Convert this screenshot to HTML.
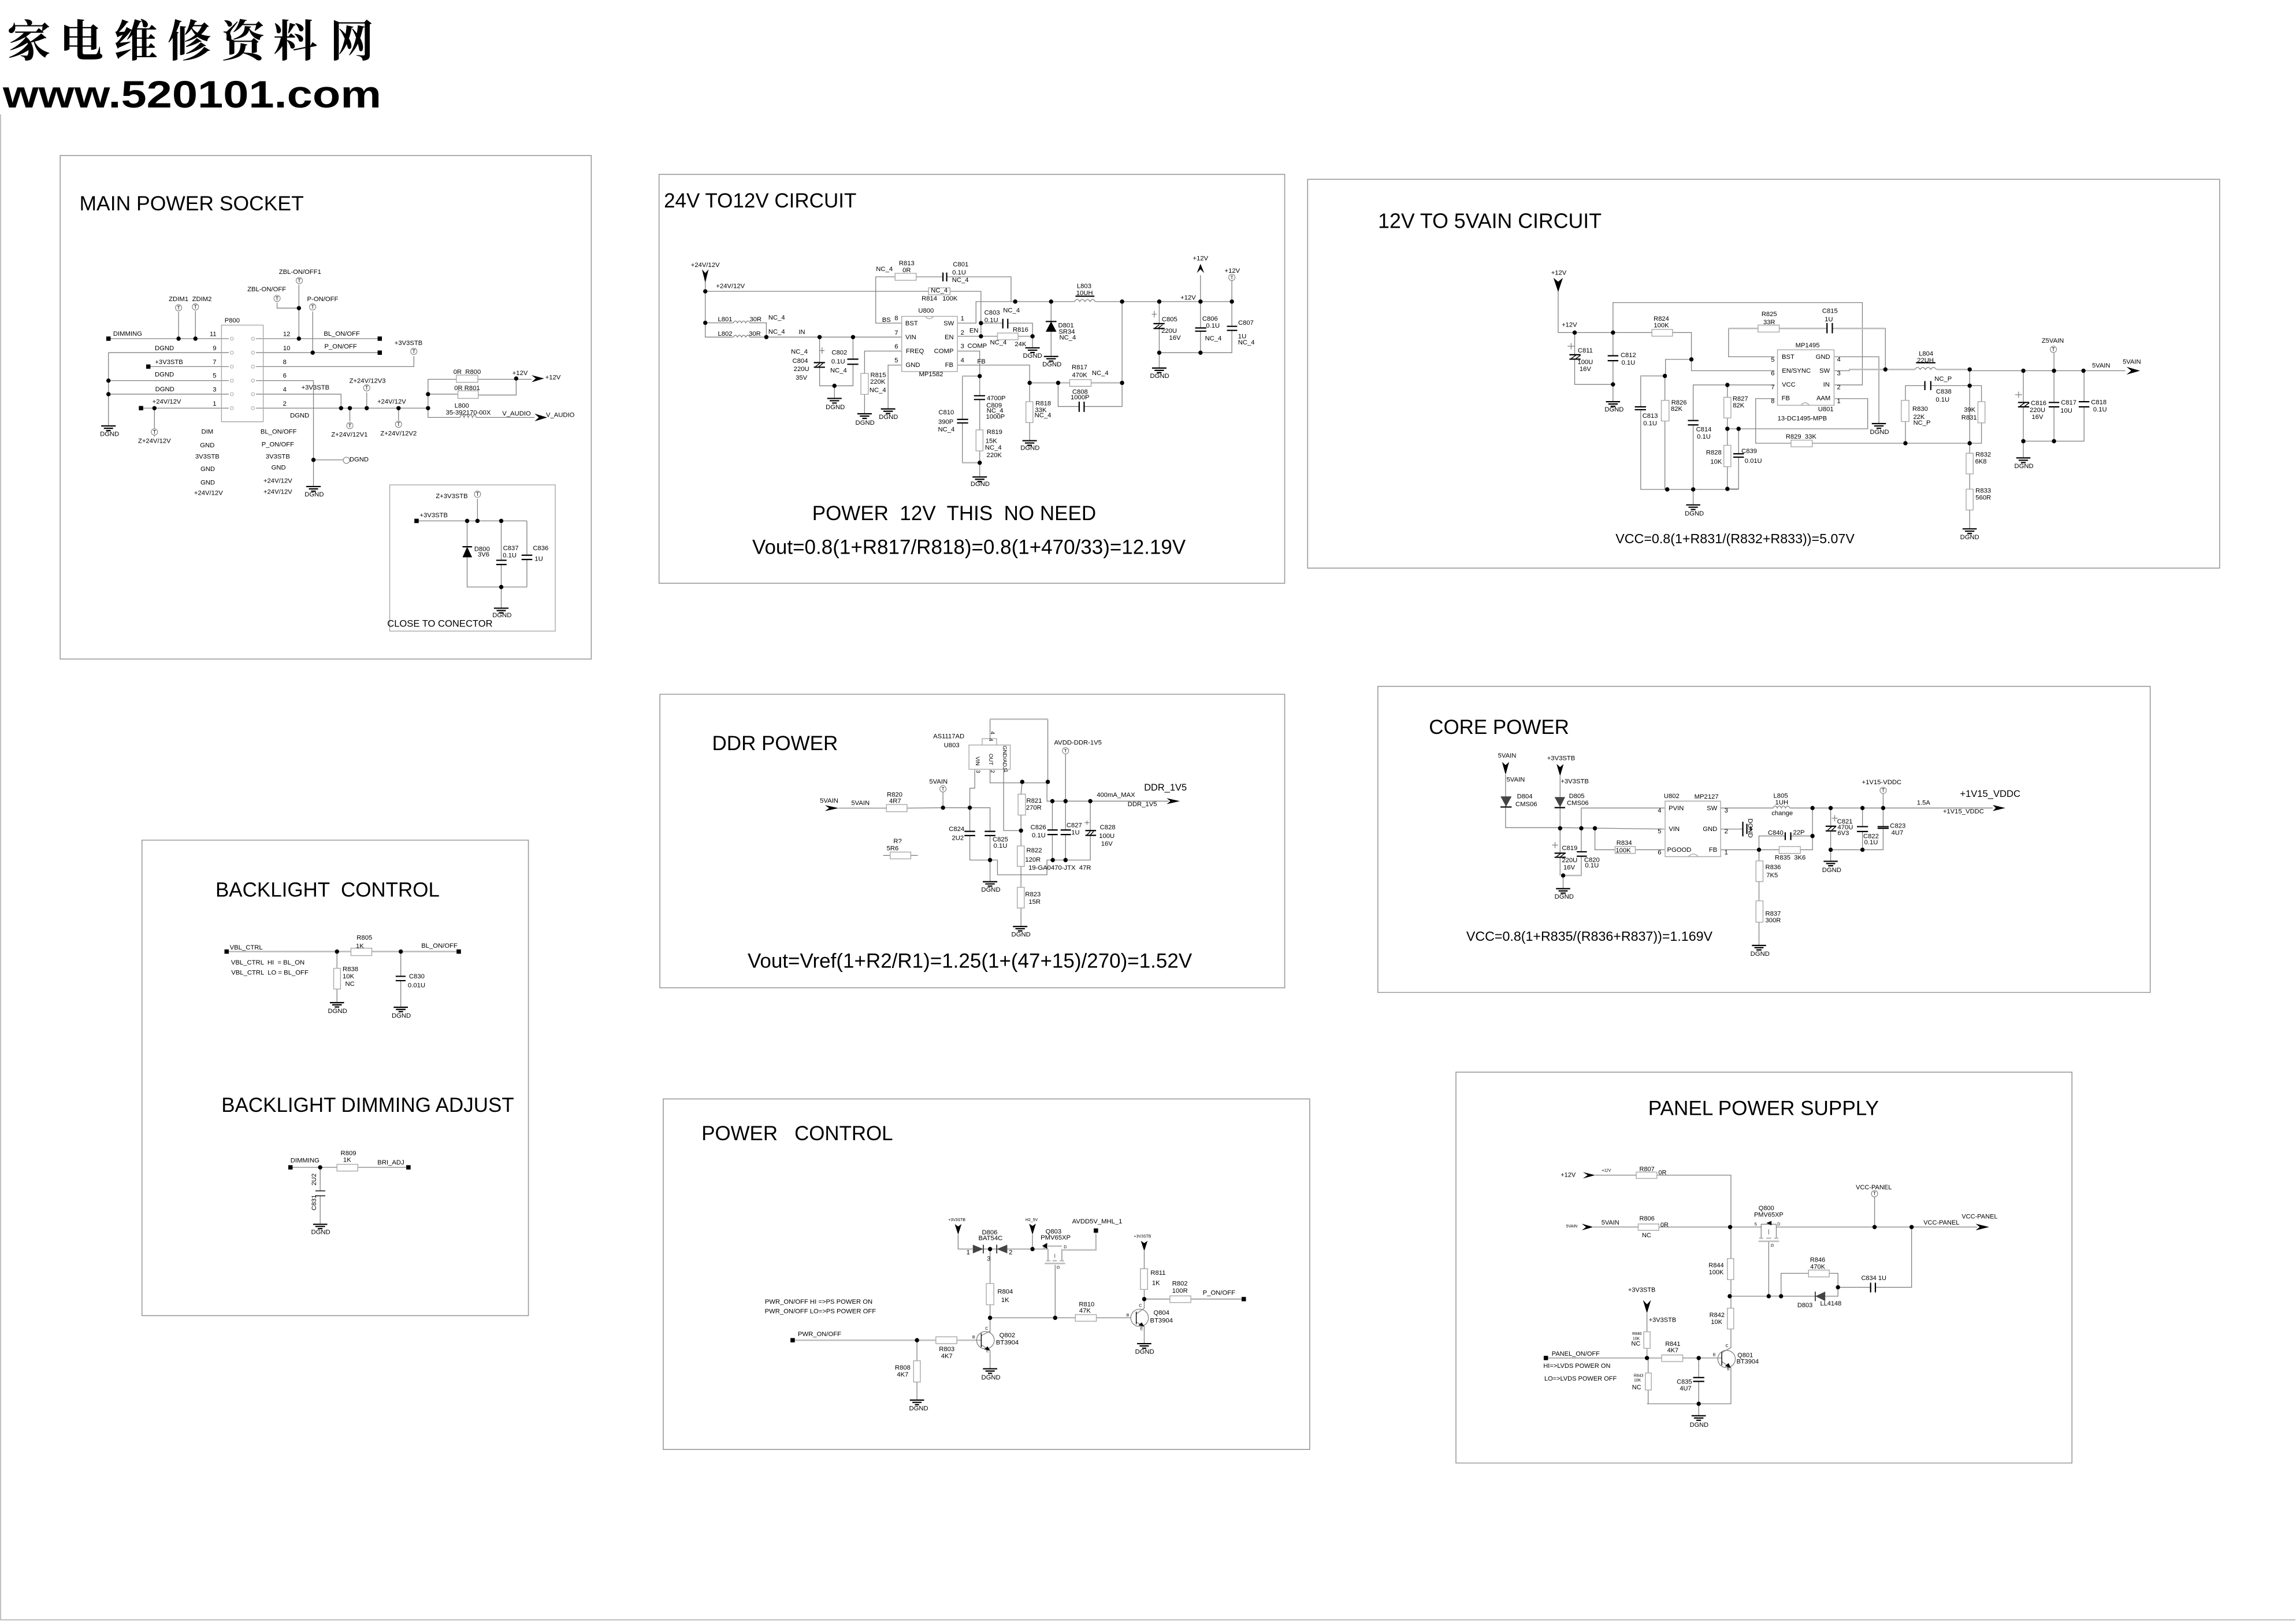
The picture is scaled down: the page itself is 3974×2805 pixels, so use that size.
<!DOCTYPE html>
<html><head><meta charset="utf-8"><title>Power schematic</title>
<style>
html,body{margin:0;padding:0;background:#fff}
svg{display:block}
text{font-family:"Liberation Sans","Noto Sans CJK SC",sans-serif;fill:#000;white-space:pre}
.s text{text-anchor:middle;dominant-baseline:central;transform-box:fill-box;transform-origin:center}
.s1 text{transform:scale(1,.90435)}
.s2 text{transform:scale(1,1.53425)}
.s3 text{transform:scale(1,2.28571)}
.s4 text{transform:scale(1,2.07407)}
.s5 text{transform:scale(1,2.49091)}
.s6 text{transform:scale(1,.82143)}
.s7 text{transform:scale(1,1.83871)}
.s8 text{transform:scale(1,1.56522)}
path,rect,ellipse{vector-effect:non-scaling-stroke;fill:none}
.b{stroke:#9a9a9a;stroke-width:1.6}
.w{stroke:#808080;stroke-width:1.3}
.r{stroke:#a8a8a8;stroke-width:1.4}
.g{stroke:#bdbdbd;stroke-width:2.6}
.k{stroke:#000;stroke-width:2.2}
.t{stroke:#000;stroke-width:1.4}
.d{stroke:#000;stroke-width:7.4;stroke-linecap:round}
.q{stroke:#000;stroke-width:7.5;stroke-linecap:square}
.o{stroke:#777;stroke-width:12;stroke-linecap:round}
.i{stroke:#fff;stroke-width:10;stroke-linecap:round}
path.f{fill:#000;stroke:none}
path.e{fill:#444;stroke:none}
</style></head><body>
<svg xmlns="http://www.w3.org/2000/svg" width="3974" height="2805" viewBox="0 0 3974 2805">
<rect x="0" y="0" width="3974" height="2805" style="fill:#fff"/>
<path class="r" d="M1 198V2803H3973"/>
<!-- logo -->
<text x="12 103 197 290 383 473 571" y="98" font-size="76" font-weight="700" style="font-family:'Noto Serif CJK SC','Noto Sans CJK SC',serif">家电维修资料网</text>
<text x="5" y="186" font-size="66" font-weight="700" textLength="655" lengthAdjust="spacingAndGlyphs">www.520101.com</text>

<!-- S1 MAIN POWER SOCKET -->
<g class="s s1" transform="scale(.66326,.73341)" font-size="17">
<path class="b" d="M157 367H1543V1555H157Z"/>
<path class="r" d="M1017 1144H1449V1489H1017Z"/>
<path class="w" d="M283 799H597M466 799V736M510 799V734M283 832H597M283 832V1005M283 898H597M283 930H597M387 865H597M368 963H597M403 963V1030
M668 799H991M668 832H991M780 799V672M780 727H723V714M816 832V735M668 865H1080V840M668 898H818V1148M818 1085H895M668 930H890V963M668 963H1117M913 963V994M957 963V926M1040 963V992
M1117 930V985H1200M1243 985H1395M1117 930V895H1191M1247 895H1387M1117 930H1195M1248 932H1347V893
M1200 985q5.5 -13 11 0q5.5 -13 11 0q5.5 -13 11 0q5 -13 10 0
M1087 1229H1375M1246 1229V1177M1219 1229V1385H1375M1308 1229V1322M1308 1332V1435M1375 1229V1310M1375 1320V1385"/>
<path class="r" d="M578 767H687V995H578ZM1191 885H1247V902H1191ZM1195 922H1248V940H1195Z"/>
<path class="r" d="M605 799h.01M660 799h.01" style="display:none"/>
<path class="o" d="M466 726h.01M510 724h.01M781 662h.01M723 704h.01M816 724h.01M1080 829h.01M957 915h.01M913 1004h.01M1040 1001h.01M403 1019h.01M904 1086h.01M1246 1166h.01"/>
<path class="i" d="M466 726h.01M510 724h.01M781 662h.01M723 704h.01M816 724h.01M1080 829h.01M957 915h.01M913 1004h.01M1040 1001h.01M403 1019h.01M904 1086h.01M1246 1166h.01"/>
<path class="r" style="stroke-width:6.5;stroke-linecap:round" d="M605 799h.01M605 832h.01M605 865h.01M605 898h.01M605 930h.01M605 963h.01M660 799h.01M660 832h.01M660 865h.01M660 898h.01M660 930h.01M660 963h.01"/>
<path style="stroke:#fff;stroke-width:4.4;stroke-linecap:round" d="M605 799h.01M605 832h.01M605 865h.01M605 898h.01M605 930h.01M605 963h.01M660 799h.01M660 832h.01M660 865h.01M660 898h.01M660 930h.01M660 963h.01"/>
<path class="d" d="M466 799h.01M510 799h.01M780 799h.01M780 727h.01M816 832h.01M283 898h.01M283 930h.01M403 963h.01M890 963h.01M913 963h.01M957 963h.01M1040 963h.01M1117 963h.01M1117 930h.01M1347 893h.01M818 1085h.01M1219 1229h.01M1246 1229h.01M1308 1229h.01M1308 1385h.01"/>
<path class="q" d="M283 799h.01M991 799h.01M991 832h.01M387 865h.01M368 963h.01M1087 1229h.01"/>
<path class="k" d="M283 1005m-19 0h38m-31 5.5h24m-18 5.5h12M818 1148m-19 0h38m-31 5.5h24m-18 5.5h12M1308 1435m-19 0h38m-31 5.5h24m-18 5.5h12M1295 1322h27M1295 1332h27M1361 1310h28M1361 1320h28M1207 1290h25"/>
<path class="f" d="M1387 885L1398 893L1387 902L1420 893ZM1395 976L1406 985L1395 994L1428 985ZM1219 1290L1232 1315H1207Z"/>
<text x="500" y="480" font-size="53.5">MAIN POWER SOCKET</text>
<text x="783" y="642">ZBL-ON/OFF1</text><text x="696" y="683">ZBL-ON/OFF</text><text x="466" y="706">ZDIM1</text><text x="527" y="706">ZDIM2</text><text x="842" y="706">P-ON/OFF</text><text x="606" y="757">P800</text>
<text x="333" y="788">DIMMING</text><text x="556" y="789">11</text><text x="748" y="789">12</text><text x="892" y="788">BL_ON/OFF</text><text x="560" y="822">9</text><text x="748" y="822">10</text><text x="429" y="822">DGND</text><text x="889" y="818">P_ON/OFF</text><text x="1066" y="810">+3V3STB</text>
<text x="441" y="855">+3V3STB</text><text x="560" y="855">7</text><text x="743" y="855">8</text><text x="429" y="884">DGND</text><text x="560" y="887">5</text><text x="743" y="887">6</text><text x="823" y="915">+3V3STB</text><text x="430" y="919">DGND</text><text x="560" y="920">3</text><text x="743" y="920">4</text><text x="959" y="899">Z+24V/12V3</text>
<text x="435" y="948">+24V/12V</text><text x="560" y="953">1</text><text x="743" y="953">2</text><text x="1022" y="948">+24V/12V</text><text x="782" y="981">DGND</text><text x="286" y="1025">DGND</text><text x="403" y="1041">Z+24V/12V</text><text x="912" y="1026">Z+24V/12V1</text><text x="1040" y="1023">Z+24V/12V2</text>
<text x="541" y="1019">DIM</text><text x="727" y="1019">BL_ON/OFF</text><text x="541" y="1051">GND</text><text x="725" y="1049">P_ON/OFF</text><text x="541" y="1078">3V3STB</text><text x="725" y="1078">3V3STB</text><text x="542" y="1107">GND</text><text x="727" y="1104">GND</text><text x="542" y="1139">GND</text><text x="725" y="1135">+24V/12V</text><text x="544" y="1164">+24V/12V</text><text x="725" y="1161">+24V/12V</text><text x="820" y="1167">DGND</text><text x="937" y="1085">DGND</text>
<text x="1219" y="878">0R  R800</text><text x="1219" y="916">0R R801</text><text x="1357" y="881">+12V</text><text x="1443" y="891">+12V</text><text x="1205" y="958">L800</text><text x="1222" y="974">35-392170-00X</text><text x="1348" y="976">V_AUDIO</text><text x="1462" y="980">V_AUDIO</text>
<text x="1179" y="1171">Z+3V3STB</text><text x="1132" y="1216">+3V3STB</text><text x="1258" y="1296">D800</text><text x="1262" y="1309">3V6</text><text x="1333" y="1294">C837</text><text x="1330" y="1311">0.1U</text><text x="1411" y="1294">C836</text><text x="1406" y="1319">1U</text><text x="1310" y="1452">DGND</text><text x="1148" y="1471" font-size="25">CLOSE TO CONECTOR</text>
<g font-size="14"><text x="466" y="726">T</text><text x="510" y="724">T</text><text x="781" y="662">T</text><text x="723" y="704">T</text><text x="816" y="724">T</text><text x="1080" y="829">T</text><text x="957" y="915">T</text><text x="913" y="1004">T</text><text x="1040" y="1001">T</text><text x="403" y="1019">T</text><text x="1246" y="1166">T</text></g>
</g>

<!-- S2 24V TO 12V -->
<g class="s s2" transform="translate(1130,290) scale(.71429,.46556)" font-size="15.8">
<path class="b" d="M15 25H1531V1545H15Z"/>
<path class="w" d="M127 425V630H195M235 630H603M127 460H668M720 460H795V627M127 577H195M235 577H275V630
M195 577q5 -14 10 0q5 -14 10 0q5 -14 10 0q5 -14 10 0M195 630q5 -14 10 0q5 -14 10 0q5 -14 10 0q5 -14 10 0
M603 578H540V406H587M638 406H703M712 406H868V498M738 578H783V498H1022M1072 498H1403
M1022 498q6 -16 12.5 0q6 -16 12.5 0q6 -16 12.5 0q6 -16 12.5 0
M738 627H835M885 627H920M795 578H848M860 578H920V670M738 682H792V848M792 862V975M792 1053V1150M792 775H750M750 775V936M750 949V1097H792M738 734H913V800M913 800V870M913 948V1015
M913 800H1010M1062 800H1137M1137 498V888H1045M1033 888H982V800M603 682H513V765M513 843V915M603 734H570V897
M404 630V725M404 742V811H485V731M485 630V712M440 811V858M965 498V700M1227 498V580M1227 598V745M1227 688H1403V605M1403 590V418M1327 498V400M1327 498V596M1327 608V688
M404 680h12M410 668v24M1209 545h12M1215 533v24"/>
<path class="g" d="M750 775H792M913 800H1010M1062 800H1137M750 1097H792"/>
<path class="r" d="M603 553H738V758H603ZM587 393H638V419H587ZM668 447H720V473H668ZM835 615H885V640H835ZM783 975H800V1053H783ZM904 870H921V948H904ZM1010 788H1062V813H1010ZM504 765H522V843H504ZM660 553q10 18 20 0"/>
<path class="o" d="M1403 408h.01"/><path class="i" d="M1403 408h.01"/>
<path class="d" d="M127 460h.01M127 577h.01M275 630h.01M404 630h.01M485 630h.01M440 811h.01M878 498h.01M965 498h.01M1137 498h.01M1227 498h.01M1327 498h.01M1403 498h.01M795 578h.01M795 627h.01M920 627h.01M792 775h.01M792 1097h.01M913 800h.01M982 800h.01M1137 800h.01M1227 688h.01M1327 688h.01"/>
<path class="k" d="M440 858m-17.5 0h35m-29 8.6h23m-17 8.6h11M513 915m-17.5 0h35m-29 8.6h23m-17 8.6h11M570 897m-17.5 0h35m-29 8.6h23m-17 8.6h11M920 670m-17.5 0h35m-29 8.6h23m-17 8.6h11M965 702m-17.5 0h35m-29 8.6h23m-17 8.6h11M1227 745m-17.5 0h35m-29 8.6h23m-17 8.6h11M792 1150m-17.5 0h35m-29 8.6h23m-17 8.6h11M913 1015m-17.5 0h35m-29 8.6h23m-17 8.6h11
M703 390V423M712 390V423M848 562V598M860 562V598M778 848h27M778 862h27M737 936h27M737 949h27M1033 870V908M1045 870V908M390 725h27M390 742h27M471 712h27M471 731h27M1213 580h27M1213 598h27M1314 596h27M1314 608h27M1391 590h25M1391 605h25M1024 478h46M952 572h26"/>
<path class="t" d="M394 740l10 -12M402 740l10 -12M1217 596l10 -12M1225 596l10 -12"/>
<path class="f" d="M119 378L127 392L135 378L127 428ZM1318 392L1327 378L1336 392L1327 358ZM965 572L978 610H952Z"/>
<text x="260" y="124" font-size="49">24V TO12V CIRCUIT</text>
<text x="127" y="363">+24V/12V</text><text x="188" y="441">+24V/12V</text><text x="561" y="378">NC_4</text><text x="615" y="357">R813</text><text x="615" y="382">0R</text><text x="746" y="361">C801</text><text x="742" y="391">0.1U</text><text x="745" y="419">NC_4</text><text x="694" y="457">NC_4</text><text x="670" y="488">R814</text><text x="720" y="488">100K</text><text x="662" y="533">U800</text><text x="869" y="532">NC_4</text><text x="822" y="540">C803</text><text x="820" y="568">0.1U</text>
<text x="1045" y="441">L803</text><text x="1046" y="467">10UH</text><text x="1327" y="338">+12V</text><text x="1404" y="384">+12V</text><text x="1297" y="484">+12V</text><text x="175" y="565">L801</text><text x="249" y="565">30R</text><text x="300" y="559">NC_4</text><text x="175" y="619">L802</text><text x="247" y="619">30R</text><text x="300" y="611">NC_4</text><text x="361" y="612">IN</text>
<text x="566" y="567">BS</text><text x="590" y="561">8</text><text x="627" y="580">BST</text><text x="717" y="580">SW</text><text x="750" y="562">1</text><text x="590" y="615">7</text><text x="625" y="632">VIN</text><text x="718" y="632">EN</text><text x="750" y="614">2</text><text x="778" y="607">EN</text><text x="891" y="604">R816</text><text x="590" y="666">6</text><text x="635" y="683">FREQ</text><text x="705" y="683">COMP</text><text x="750" y="665">3</text><text x="786" y="664">COMP</text><text x="837" y="651">NC_4</text><text x="891" y="657">24K</text><text x="590" y="717">5</text><text x="630" y="735">GND</text><text x="718" y="735">FB</text><text x="750" y="717">4</text><text x="796" y="722">FB</text><text x="674" y="769">MP1582</text>
<text x="355" y="685">NC_4</text><text x="452" y="688">C802</text><text x="357" y="720">C804</text><text x="449" y="722">0.1U</text><text x="360" y="750">220U</text><text x="450" y="755">NC_4</text><text x="360" y="782">35V</text><text x="546" y="772">R815</text><text x="545" y="797">220K</text><text x="545" y="828">NC_4</text><text x="442" y="891">DGND</text><text x="514" y="949">DGND</text><text x="571" y="928">DGND</text><text x="920" y="700">DGND</text><text x="967" y="733">DGND</text>
<text x="1001" y="588">D801</text><text x="1003" y="611">SR34</text><text x="1005" y="633">NC_4</text><text x="1252" y="565">C805</text><text x="1251" y="608">220U</text><text x="1265" y="634">16V</text><text x="1350" y="563">C806</text><text x="1357" y="589">0.1U</text><text x="1358" y="636">NC_4</text><text x="1437" y="578">C807</text><text x="1428" y="628">1U</text><text x="1438" y="651">NC_4</text><text x="1228" y="775">DGND</text>
<text x="1034" y="743">R817</text><text x="1034" y="772">470K</text><text x="1084" y="765">NC_4</text><text x="1035" y="834">C808</text><text x="1035" y="855">1000P</text><text x="832" y="858">4700P</text><text x="827" y="885">C809</text><text x="829" y="904">NC_4</text><text x="830" y="927">1000P</text><text x="711" y="911">C810</text><text x="710" y="946">390P</text><text x="711" y="974">NC_4</text><text x="946" y="877">R818</text><text x="940" y="902">33K</text><text x="945" y="922">NC_4</text><text x="828" y="984">R819</text><text x="820" y="1017">15K</text><text x="825" y="1042">NC_4</text><text x="827" y="1070">220K</text><text x="914" y="1043">DGND</text><text x="793" y="1177">DGND</text>
<text x="1403" y="408" font-size="12">T</text>
<text x="730" y="1286" font-size="49">POWER  12V  THIS  NO NEED</text>
<text x="766" y="1411" font-size="49">Vout=0.8(1+R817/R818)=0.8(1+470/33)=12.19V</text>
</g>

<!-- S3 12V TO 5VAIN -->
<g class="s s3" transform="translate(2250,300) scale(1.02041,.44643)" font-size="11">
<path class="b" d="M13 23H1560V1530H13Z"/>
<path class="w" d="M438 458V617H597M632 617H664V765H805M531 617V501H954V820H907M664 721H620V785H578V905M578 916V1225H744M619 785V880M619 960V1225M805 820H667V958M667 975V1285M725 820V868M725 948V1054M725 1137V1223H744V1100M744 1087V990M725 990H963V873H907
M466 617V703M466 720V818H531M531 617V707M531 726V885M727 601H777M813 601H894M903 601H993V760M727 601V711H805M907 711H982V970M907 765H932V760H1043M1080 760H1136V1046M1136 765H1400M1043 760q4.5 -16 9 0q4.5 -16 9 0q4.5 -16 9 0q4.5 -16 9.5 0
M1279 765V695M1136 823H1070M1060 823H1027V880M1027 962V1046M1136 823H1156V885M1156 967V1046H1136M805 873H773V1046H833M869 1046H1136M1136 1046V1085M1136 1165V1224M1136 1305V1378
M1227 765V888M1227 905V1103M1227 1038H1330V905M1279 765V888M1279 905V1038M1330 765V885
M454 670h12M460 658v24M1213 858h12M1219 846v24"/>
<path class="g" d="M578 785H619M727 601H777M813 601H894M903 601H993M932 760H1043M1080 760H1136"/>
<path class="r" d="M810 684H906V899H810ZM597 605H632V631H597ZM777 588H813V615H777ZM613 880H626V960H613ZM719 868H731V948H719ZM719 1054H731V1137H719ZM833 1034H869V1060H833ZM1020 880H1033V962H1020ZM1150 885H1162V967H1150ZM1130 1085H1142V1165H1130ZM1130 1224H1142V1305H1130ZM850 899q7 -20 14 0"/>
<path class="o" d="M1278 682h.01"/><path class="i" d="M1278 682h.01"/>
<path class="d" d="M466 617h.01M531 617h.01M531 818h.01M664 721h.01M619 785h.01M725 820h.01M725 990h.01M744 990h.01M623 1225h.01M667 1225h.01M725 1223h.01M993 760h.01M1136 760h.01M1136 823h.01M1027 1046h.01M1136 1046h.01M1227 765h.01M1279 765h.01M1329 765h.01M1227 1038h.01M1279 1038h.01"/>
<path class="k" d="M531 885m-12 0h24m-20 9h16m-12 9h8M667 1285m-12 0h24m-20 9h16m-12 9h8M982 970m-12 0h24m-20 9h16m-12 9h8M1227 1103m-12 0h24m-20 9h16m-12 9h8M1136 1378m-12 0h24m-20 9h16m-12 9h8
M457 703h19M457 720h19M522 707h18M522 726h18M568 905h19M568 916h19M658 958h18M658 975h18M735 1087h18M735 1100h18M894 580V620M903 580V620M1060 805V840M1070 805V840M1218 888h19M1218 905h19M1270 888h18M1270 905h18M1321 885h18M1321 905h18M1045 734h33"/>
<path class="t" d="M460 718l8 -13M468 718l8 -13M1221 903l8 -13M1229 903l8 -13"/>
<path class="f" d="M430 405L438 420L446 405L438 460ZM1402 750L1410 765L1402 780L1425 765Z"/>
<text x="322" y="185" font-size="35">12V TO 5VAIN CIRCUIT</text>
<text x="439" y="386">+12V</text><text x="457" y="588">+12V</text><text x="613" y="564">R824</text><text x="613" y="590">100K</text><text x="796" y="547">R825</text><text x="796" y="578">33R</text><text x="899" y="534">C815</text><text x="897" y="567">1U</text><text x="861" y="668">MP1495</text><text x="484" y="688">C811</text><text x="557" y="706">C812</text><text x="557" y="735">0.1U</text><text x="484" y="732">100U</text><text x="484" y="759">16V</text>
<text x="828" y="712">BST</text><text x="802" y="723">5</text><text x="887" y="712">GND</text><text x="914" y="722">4</text><text x="842" y="766">EN/SYNC</text><text x="802" y="776">6</text><text x="890" y="766">SW</text><text x="914" y="776">3</text><text x="829" y="820">VCC</text><text x="802" y="830">7</text><text x="893" y="820">IN</text><text x="914" y="830">2</text><text x="824" y="873">FB</text><text x="802" y="884">8</text><text x="888" y="873">AAM</text><text x="914" y="884">1</text><text x="892" y="915">U801</text><text x="852" y="951">13-DC1495-MPB</text>
<text x="643" y="889">R826</text><text x="639" y="914">82K</text><text x="747" y="875">R827</text><text x="744" y="900">82K</text><text x="594" y="941">C813</text><text x="594" y="970">0.1U</text><text x="685" y="994">C814</text><text x="685" y="1021">0.1U</text><text x="702" y="1083">R828</text><text x="706" y="1119">10K</text><text x="762" y="1078">C839</text><text x="769" y="1116">0.01U</text><text x="850" y="1021">R829  33K</text><text x="533" y="916">DGND</text><text x="669" y="1319">DGND</text><text x="983" y="1003">DGND</text>
<text x="1062" y="700">L804</text><text x="1061" y="726">22UH</text><text x="1277" y="650">Z5VAIN</text><text x="1359" y="746">5VAIN</text><text x="1411" y="731">5VAIN</text><text x="1091" y="798">NC_P</text><text x="1092" y="847">C838</text><text x="1090" y="878">0.1U</text><text x="1052" y="914">R830</text><text x="1050" y="945">22K</text><text x="1055" y="968">NC_P</text><text x="1136" y="917">39K</text><text x="1135" y="947">R831</text>
<text x="1253" y="891">C816</text><text x="1251" y="918">220U</text><text x="1251" y="945">16V</text><text x="1304" y="889">C817</text><text x="1300" y="921">10U</text><text x="1355" y="888">C818</text><text x="1357" y="916">0.1U</text><text x="1159" y="1091">R832</text><text x="1155" y="1118">6K8</text><text x="1159" y="1231">R833</text><text x="1159" y="1258">560R</text><text x="1228" y="1136">DGND</text><text x="1136" y="1411">DGND</text>
<text x="1278" y="682" font-size="9">T</text>
<text x="738" y="1416" font-size="22.8">VCC=0.8(1+R831/(R832+R833))=5.07V</text>
</g>

<!-- S4 DDR POWER -->
<g class="s s4" transform="translate(1130,1190) scale(.71429,.34439)" font-size="15.8">
<path class="b" d="M17 33H1531V1508H17Z"/>
<path class="w" d="M450 605H566M616 605L703 603H817V722M703 603V520M768 603V505H780V410M768 603V722M768 743V866H817M817 743V975M817 866H835V940H955V866H1060V742M1060 718V570M955 478V570H1250M817 410V478H957V158M817 256V158M895 473L892 535M892 640V718M850 410V718H892M892 718V795M892 898V1003M892 1107V1200M968 570V715M968 738V866M1000 330V715M1000 738V866
M558 843H575M625 843H642M1046 678h12M1052 668v20"/>
<path class="g" d="M817 158H957"/>
<path class="r" d="M766 288H866V410H766ZM798 256H833V288H798ZM566 587H616V623H566ZM885 535H903V640H885ZM883 795H900V898H883ZM883 1003H900V1107H883ZM575 826H625V860H575Z"/>
<path class="o" d="M703 508h.01M1000 317h.01"/><path class="i" d="M703 508h.01M1000 317h.01"/>
<path class="d" d="M703 603h.01M768 603h.01M957 473h.01M895 473h.01M892 718h.01M968 570h.01M1000 570h.01M1060 570h.01M817 866h.01M969 866h.01M1000 866h.01"/>
<path class="k" d="M817 975m-17.5 0h35m-29 11h23m-17 11h11M890 1200m-17.5 0h35m-29 11h23m-17 11h11M755 722h26M755 743h26M804 722h26M804 743h26M956 715h25M956 738h25M988 715h25M988 738h25M1048 718h26M1048 742h26"/>
<path class="t" d="M1052 740l8 -18M1060 740l8 -18"/>
<path class="f" d="M417 590L427 605L417 620L450 605ZM1245 555L1254 570L1245 585L1277 570Z"/>
<text x="296" y="280" font-size="49">DDR POWER</text>
<text x="717" y="245">AS1117AD</text><text x="724" y="291">U803</text><text x="1030" y="277">AVDD-DDR-1V5</text><text x="692" y="474">5VAIN</text><text x="427" y="569">5VAIN</text><text x="503" y="581">5VAIN</text><text x="586" y="538">R820</text><text x="587" y="571">4R7</text><text x="1242" y="502" font-size="23">DDR_1V5</text><text x="1122" y="540">400mA_MAX</text><text x="1186" y="587">DDR_1V5</text>
<text x="924" y="569">R821</text><text x="923" y="604">270R</text><text x="934" y="703">C826</text><text x="935" y="743">0.1U</text><text x="1021" y="692">C827</text><text x="1024" y="729">1U</text><text x="1102" y="703">C828</text><text x="1100" y="746">100U</text><text x="1100" y="785">16V</text><text x="736" y="711">C824</text><text x="739" y="757">2U2</text><text x="842" y="763">C825</text><text x="842" y="796">0.1U</text><text x="593" y="772">R?</text><text x="581" y="809">5R6</text><text x="924" y="819">R822</text><text x="921" y="866">120R</text><text x="986" y="906">19-GA0470-JTX  47R</text><text x="921" y="1040">R823</text><text x="925" y="1078">15R</text><text x="819" y="1016">DGND</text><text x="892" y="1242">DGND</text>
<text x="703" y="508" font-size="12">T</text><text x="1000" y="317" font-size="12">T</text>
<text x="768" y="1373" font-size="49">Vout=Vref(1+R2/R1)=1.25(1+(47+15)/270)=1.52V</text>
</g>
<g font-size="9.5" text-anchor="middle">
<text x="1736" y="1311" transform="rotate(90 1736 1311)">GND/ADJ</text><text x="1712" y="1314" transform="rotate(90 1712 1314)">OUT</text><text x="1689" y="1317" transform="rotate(90 1689 1317)">VIN</text><text x="1690" y="1335" transform="rotate(90 1690 1335)">3</text><text x="1715" y="1335" transform="rotate(90 1715 1335)">2</text><text x="1738" y="1334" transform="rotate(90 1738 1334)">1</text><text x="1715" y="1268" transform="rotate(90 1715 1268)">4</text><text x="1712" y="1280" transform="rotate(90 1712 1280)">4</text>
</g>

<!-- S5 CORE POWER -->
<g class="s s5" transform="translate(2370,1180) scale(.87372,.35077)" font-size="12.9">
<path class="b" d="M17 22H1547V1532H17Z"/>
<path class="w" d="M270 458V719H378L585 726M378 465V845M378 865V955M420 722V622H585M420 722V838M420 860V955H384V1020M447 722V828H487M527 828H585M696 622H800M833 622H1235M800 622q4 -20 8.2 0q4 -20 8.2 0q4 -20 8.2 0q4 -20 8.4 0M696 726H740M696 828H812M854 828H878V622M878 760H835M824 760H772V828M772 828V883M772 985V1080M772 1185V1300M914 622V712M914 735V885M914 828H1018V722M1018 714V550M977 622V714M977 738V828
M362 805h12M368 790v30M916 672h12M922 657v30"/>
<path class="g" d="M385 955H420"/>
<path class="r" d="M586 588H696V862H586ZM487 812H527V846H487ZM812 812H854V846H812ZM766 883H780V985H766ZM766 1080H780V1185H766ZM632 862q10 -26 20 0"/>
<path class="o" d="M1018 535h.01"/><path class="i" d="M1018 535h.01"/>
<path class="d" d="M378 722h.01M420 722h.01M447 722h.01M384 955h.01M878 622h.01M914 622h.01M977 622h.01M1018 622h.01M878 760h.01M772 828h.01M914 828h.01M977 828h.01"/>
<path class="k" d="M384 1020m-14 0h28m-23 11h18m-14 11h10M914 885m-14 0h28m-23 11h18m-14 11h10M772 1300m-14 0h28m-23 11h18m-14 11h10M740 690V762M748 700V750M756 715V735M824 742V780M835 742V780M367 845h22M367 865h22M411 838h20M411 860h20M904 712h21M904 735h21M966 714h22M966 738h22M1007 714h22M1007 722h22M260 617h22M367 620h21"/>
<path class="t" d="M371 862l8 -15M379 862l8 -15M908 732l8 -18M916 732l8 -18"/>
<path class="e" d="M260 565H282L271 615ZM367 568H388L378 618Z"/>
<path class="f" d="M263 395L270 410L277 395L270 458ZM371 405L378 420L385 405L378 465ZM1235 607L1241 622L1235 637L1260 622Z"/>
<text x="257" y="224" font-size="40">CORE POWER</text>
<text x="273" y="365">5VAIN</text><text x="380" y="378">+3V3STB</text><text x="290" y="483">5VAIN</text><text x="407" y="492">+3V3STB</text><text x="308" y="566">D804</text><text x="311" y="604">CMS06</text><text x="411" y="564">D805</text><text x="413" y="598">CMS06</text><text x="599" y="565">U802</text><text x="668" y="568">MP2127</text><text x="815" y="563">L805</text><text x="817" y="596">1UH</text><text x="818" y="649">change</text><text x="1015" y="496">+1V15-VDDC</text><text x="1230" y="552" font-size="19">+1V15_VDDC</text><text x="1098" y="597">1.5A</text><text x="1177" y="640">+1V15_VDDC</text>
<text x="608" y="625">PVIN</text><text x="575" y="636">4</text><text x="679" y="625">SW</text><text x="707" y="636">3</text><text x="604" y="727">VIN</text><text x="575" y="739">5</text><text x="675" y="727">GND</text><text x="707" y="739">2</text><text x="805" y="745">C840</text><text x="851" y="744">22P</text><text x="614" y="829">PGOOD</text><text x="575" y="842">6</text><text x="681" y="829">FB</text><text x="707" y="842">1</text><text x="505" y="795">R834</text><text x="503" y="832">100K</text><text x="834" y="868">R835  3K6</text><text x="800" y="915">R836</text><text x="798" y="955">7K5</text><text x="800" y="1145">R837</text><text x="800" y="1178">300R</text>
<text x="397" y="821">C819</text><text x="397" y="881">220U</text><text x="396" y="916">16V</text><text x="441" y="880">C820</text><text x="441" y="906">0.1U</text><text x="942" y="690">C821</text><text x="943" y="718">470U</text><text x="939" y="747">6V3</text><text x="994" y="762">C822</text><text x="994" y="793">0.1U</text><text x="1047" y="712">C823</text><text x="1046" y="746">4U7</text><text x="916" y="930">DGND</text><text x="386" y="1060">DGND</text><text x="774" y="1343">DGND</text>
<text x="1018" y="535" font-size="10">T</text>
<text x="436" y="1254" font-size="26.6">VCC=0.8(1+R835/(R836+R837))=1.169V</text>
</g>
<text x="3030" y="1437" font-size="11.3" text-anchor="middle" transform="rotate(90 3030 1433)">DGND</text>

<!-- S6 BACKLIGHT -->
<g class="s s6" transform="translate(240,1450) scale(.44005,.53571)" font-size="25.7">
<path class="b" d="M13 7H1533V1543H13Z"/>
<path class="w" d="M780 367V421M780 488V532M1031 367V447M1031 461V547M597 1064H780M862 1064H1060M714 1064V1140M714 1156V1248"/>
<path class="g" d="M346 367H835M917 367H1255"/>
<path class="r" d="M835 356H917V380H835ZM767 421H794V488H767ZM780 1054H862V1076H780Z"/>
<path class="d" d="M780 367h.01M1031 367h.01M714 1064h.01"/>
<path class="q" d="M346 367h.01M1259 367h.01M597 1064h.01M1061 1064h.01"/>
<path class="k" d="M780 532m-28 0h56m-47 7h38m-28 7h18M1031 547m-28 0h56m-47 7h38m-28 7h18M714 1248m-28 0h56m-47 7h38m-28 7h18M1011 447h39M1011 461h39"/>
<path class="t" d="M695 1140h39M695 1156h39"/>
<text x="743" y="168" font-size="79.5">BACKLIGHT  CONTROL</text><text x="901" y="863" font-size="79.5">BACKLIGHT DIMMING ADJUST</text>
<text x="888" y="323">R805</text><text x="870" y="350">1K</text><text x="423" y="355">VBL_CTRL</text><text x="1183" y="349">BL_ON/OFF</text><text x="508" y="403">VBL_CTRL  HI  = BL_ON</text><text x="516" y="436">VBL_CTRL  LO = BL_OFF</text><text x="833" y="425">R838</text><text x="825" y="448">10K</text><text x="831" y="472">NC</text><text x="1094" y="448">C830</text><text x="1093" y="477">0.01U</text><text x="782" y="560">DGND</text><text x="1033" y="575">DGND</text><text x="654" y="1043">DIMMING</text><text x="825" y="1019">R809</text><text x="820" y="1041">1K</text><text x="992" y="1049">BRI_ADJ</text><text x="716" y="1274">DGND</text>
</g>
<g font-size="11.3" text-anchor="middle"><text x="551" y="2045" transform="rotate(-90 547 2045)">2U2</text><text x="551" y="2085" transform="rotate(-90 547 2085)">C831</text></g>

<!-- S7 POWER CONTROL -->
<g class="s s7" transform="translate(1140,1900) scale(.72704,.39541)" font-size="15.5">
<path class="b" d="M11 4H1550V1538H11Z"/>
<path class="w" d="M713 598V661H748M773 661H805M830 661H890M890 598V661H927M927 648H960M927 661V712M960 661V712M944 730V962M789 661V812M789 905V1030M789 962H992M1042 962H1125M1156 670V747M1156 838V920L1137 945M1137 980L1156 1000V1075M1156 880H1217M1267 880H1390M757 1060H768M768 1040L789 1020M768 1080L789 1105V1185M615 1060V1150M615 1243V1322M943 700V682"/>
<path class="g" d="M319 1060H660M710 1060H757M960 665H1041V590M919 724H968M923 712H932M938 712H948M955 712H965"/>
<path class="k" style="stroke-width:1.4" d="M773 642V680M805 642V680M1137 935V990M768 1030V1090"/>
<path class="r" d="M780 812H798V905H780ZM992 948H1042V977H992ZM1147 747H1164V838H1147ZM1217 866H1267V895H1217ZM660 1045H710V1075H660ZM607 1150H623V1243H607Z"/>
<ellipse class="w" cx="1145" cy="962" rx="21" ry="38"/><ellipse class="w" cx="778" cy="1060" rx="21" ry="38"/>
<path class="d" d="M789 661h.01M890 661h.01M789 962h.01M944 962h.01M1156 880h.01M615 1060h.01"/>
<path class="q" d="M1041 580h.01M1393 880h.01M319 1060h.01"/>
<path class="k" d="M789 1185m-17 0h34m-28 10h22m-16 10h10M1156 1075m-17 0h34m-28 10h22m-16 10h10M615 1322m-17 0h34m-28 10h22m-16 10h10"/>
<path class="e" d="M748 642V680L773 661ZM830 642V680L805 661Z"/>
<path class="f" d="M705 552L713 562L721 552L713 598ZM882 550L890 560L898 550L890 598ZM1148 625L1156 635L1164 625L1156 670ZM925 634V660L913 647ZM1156 1000L1142 995L1150 982ZM789 1105L775 1100L783 1087Z"/>
<text x="330" y="156" font-size="48">POWER   CONTROL</text>
<g font-size="9.5"><text x="710" y="535">+3V3STB</text><text x="888" y="535">H2_5V</text><text x="1152" y="607">+3V3STB</text><text x="918" y="654">S</text><text x="968" y="654">D</text><text x="1147" y="911">C</text><text x="1117" y="952">B</text><text x="1150" y="1012">E</text><text x="781" y="1010">C</text><text x="750" y="1048">B</text><text x="783" y="1108">E</text></g>
<text x="1044" y="541">AVDD5V_MHL_1</text><text x="788" y="589">D806</text><text x="790" y="614">BAT54C</text><text x="940" y="586">Q803</text><text x="945" y="612">PMV65XP</text><text x="737" y="676">1</text><text x="838" y="676">2</text><text x="786" y="704">3</text><text x="1189" y="766">R811</text><text x="1184" y="811">1K</text><text x="1241" y="813">R802</text><text x="1241" y="845">100R</text><text x="1334" y="854">P_ON/OFF</text><text x="825" y="848">R804</text><text x="825" y="885">1K</text><text x="381" y="893">PWR_ON/OFF HI =&gt;PS POWER ON</text><text x="385" y="935">PWR_ON/OFF LO=&gt;PS POWER OFF</text><text x="1019" y="904">R810</text><text x="1015" y="932">47K</text><text x="1197" y="941">Q804</text><text x="1197" y="975">BT3904</text><text x="383" y="1035">PWR_ON/OFF</text><text x="830" y="1039">Q802</text><text x="830" y="1071">BT3904</text><text x="686" y="1100">R803</text><text x="686" y="1131">4K7</text><text x="581" y="1181">R808</text><text x="581" y="1212">4K7</text><text x="791" y="1224">DGND</text><text x="1157" y="1112">DGND</text><text x="619" y="1360">DGND</text>
</g>
<text x="1829" y="2193" font-size="7.5" text-anchor="middle" transform="rotate(90 1829 2193)">G</text>

<!-- S8 PANEL POWER -->
<g class="s s8" transform="translate(2520,1850) scale(.68878,.44005)" font-size="16">
<path class="b" d="M0 12H1548V1549H0Z"/>
<path class="w" d="M350 417H453M505 417H691V745M345 621H458M510 621H767M805 621H1310M1052 503V621M1145 621V858H1054M1042 858H960V803H938M886 803H817V893M767 610H805M767 610V665M805 610V665M786 677V893M786 630V650M691 828V940M691 1022V1095L668 1115M668 1150L691 1175V1316H480M610 1136H668M610 1228V1363M610 1136V1213M483 1136V1195M483 1262V1316M480 1136V1098M480 1033V960M570 1136H610M688 893H903M928 893H960V858"/>
<path class="g" d="M226 1136H517M786 893H817M762 665H772M780 665H792M800 665H810M760 677H812"/>
<path class="k" style="stroke-width:1.4" d="M668 1110V1165M903 875V912"/>
<path class="r" d="M453 405H505V430H453ZM458 609H510V634H458ZM682 745H698V828H682ZM886 790H938V817H886ZM682 940H698V1022H682ZM472 1033H488V1098H472ZM517 1124H570V1150H517ZM476 1195H491V1262H476Z"/>
<ellipse class="w" cx="680" cy="1140" rx="22" ry="34"/>
<path class="o" d="M1052 490h.01"/><path class="i" d="M1052 490h.01"/>
<path class="d" d="M689 621h.01M1052 621h.01M1145 621h.01M688 893h.01M786 893h.01M817 893h.01M960 858h.01M480 1136h.01M610 1136h.01M610 1316h.01"/>
<path class="q" d="M226 1136h.01"/>
<path class="k" d="M610 1363m-18 0h36m-30 9h24m-18 9h12M1042 840V878M1054 840V878M596 1213h28M596 1228h28"/>
<path class="e" d="M928 875V912L903 893Z"/>
<path class="f" d="M319 405L331 417L319 430L350 417ZM316 608L327 621L316 634L345 621ZM1306 608L1316 621L1306 634L1340 621ZM470 908L480 925L490 908L480 960ZM793 597V614L780 605ZM691 1175L676 1168L685 1156Z"/>
<text x="773" y="155" font-size="51">PANEL POWER SUPPLY</text>
<g font-size="10"><text x="378" y="400">+12V</text><text x="291" y="619">5VAIN</text><text x="753" y="611">S</text><text x="811" y="611">D</text><text x="455" y="1042">R840</text><text x="453" y="1061">10K</text><text x="681" y="1090">C</text><text x="649" y="1125">B</text><text x="685" y="1180">E</text><text x="459" y="1207">R843</text><text x="456" y="1225">10K</text></g>
<text x="282" y="417">+12V</text><text x="480" y="394">R807</text><text x="519" y="408">0R</text><text x="1050" y="466">VCC-PANEL</text><text x="388" y="604">5VAIN</text><text x="480" y="589">R806</text><text x="524" y="614">0R</text><text x="479" y="654">NC</text><text x="780" y="548">Q800</text><text x="786" y="574">PMV65XP</text><text x="1220" y="604">VCC-PANEL</text><text x="1316" y="581">VCC-PANEL</text><text x="654" y="773">R844</text><text x="654" y="800">100K</text><text x="909" y="751">R846</text><text x="909" y="778">470K</text><text x="1050" y="823">C834 1U</text><text x="877" y="929">D803</text><text x="942" y="923">LL4148</text><text x="467" y="869">+3V3STB</text><text x="519" y="987">+3V3STB</text><text x="656" y="968">R842</text><text x="655" y="995">10K</text><text x="452" y="1081">NC</text><text x="545" y="1082">R841</text><text x="545" y="1107">4K7</text><text x="727" y="1126">Q801</text><text x="733" y="1151">BT3904</text><text x="301" y="1120">PANEL_ON/OFF</text><text x="304" y="1168">HI=&gt;LVDS POWER ON</text><text x="313" y="1218">LO=&gt;LVDS POWER OFF</text><text x="454" y="1252">NC</text><text x="574" y="1230">C835</text><text x="577" y="1257">4U7</text><text x="611" y="1400">DGND</text>
<text x="1052" y="490" font-size="12">T</text>
</g>
<text x="3065" y="2155" font-size="7.5" text-anchor="middle" transform="rotate(90 3065 2155)">G</text>
</svg>
</body></html>
